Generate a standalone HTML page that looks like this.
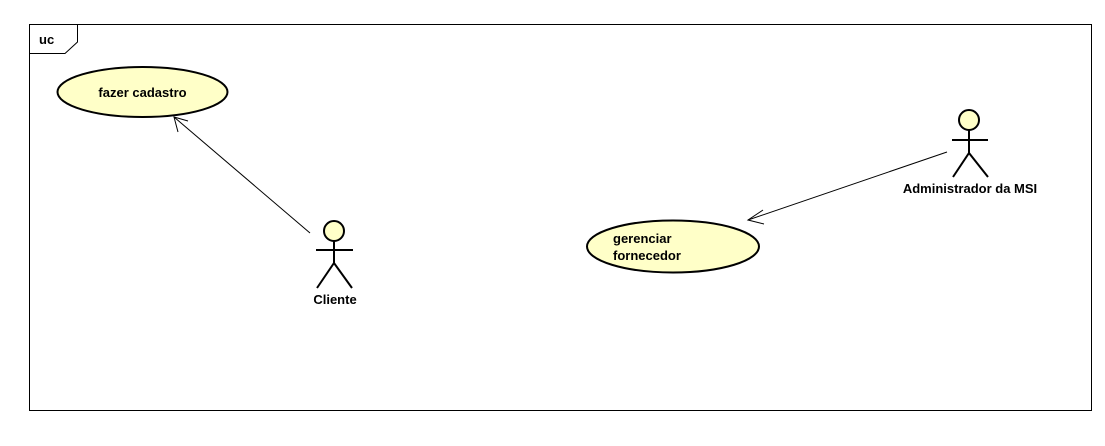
<!DOCTYPE html>
<html><head><meta charset="utf-8"><style>body{margin:0;background:#fff}svg{display:block}text{font-family:"Liberation Sans",sans-serif;font-weight:bold;font-size:13px;fill:#000}</style></head><body>
<svg width="1105" height="446" xmlns="http://www.w3.org/2000/svg">
<rect x="29.5" y="24.5" width="1062" height="386" fill="#fff" stroke="#000"/>
<path d="M29.5 53.5 H65 L77.5 42 V24.5" fill="none" stroke="#000"/>
<text x="39" y="44">uc</text>
<ellipse cx="142.5" cy="92" rx="85" ry="25" fill="#ffffc8" stroke="#000" stroke-width="2"/>
<text x="142.5" y="97" text-anchor="middle">fazer cadastro</text>
<ellipse cx="673" cy="246.5" rx="86" ry="26" fill="#ffffc8" stroke="#000" stroke-width="2"/>
<text x="613" y="243">gerenciar</text>
<text x="613" y="260">fornecedor</text>
<line x1="310" y1="233" x2="174" y2="117" stroke="#000"/>
<path d="M188 121 L174 117 L178 132" fill="none" stroke="#000"/>
<line x1="947" y1="152" x2="748" y2="220" stroke="#000"/>
<path d="M763 210 L748 220 L764 224" fill="none" stroke="#000"/>
<g stroke="#000" stroke-width="2" fill="none">
<circle cx="334" cy="231" r="10" fill="#ffffc8"/>
<line x1="316" y1="250" x2="353" y2="250"/>
<line x1="334" y1="241" x2="334" y2="263"/>
<path d="M317 288 L334 263 L352 288"/>
<circle cx="969" cy="120" r="10" fill="#ffffc8"/>
<line x1="952" y1="140" x2="988" y2="140"/>
<line x1="969" y1="130" x2="969" y2="153"/>
<path d="M953 177 L969 153 L988 177"/>
</g>
<text x="335" y="304" text-anchor="middle">Cliente</text>
<text x="970" y="193" text-anchor="middle">Administrador da MSI</text>
</svg>
</body></html>
